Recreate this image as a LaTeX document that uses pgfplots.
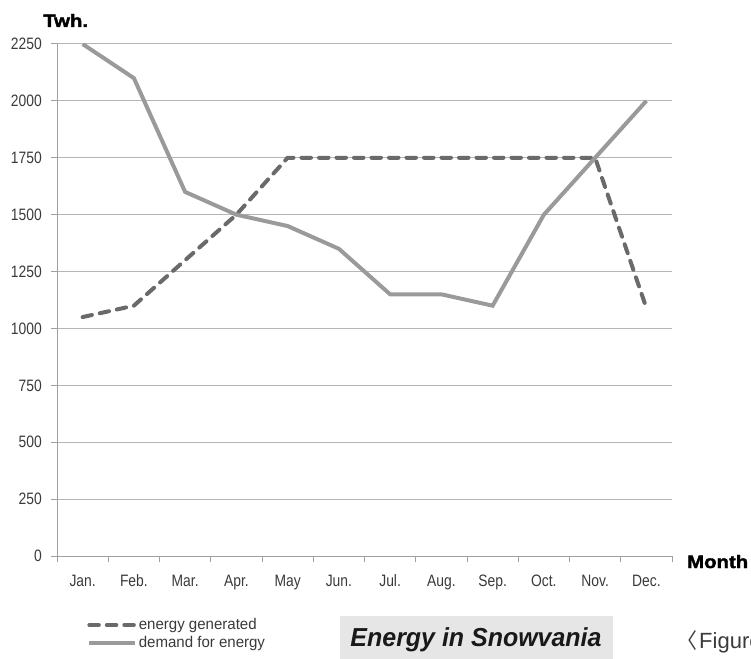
\documentclass[border=0pt]{standalone}
\usepackage{pgfplots}
\pgfplotsset{compat=1.18}
\usepackage{fontspec}
\setmainfont{Liberation Sans}
\newfontfamily\condfont[FakeStretch=0.84]{Liberation Sans}
\newfontfamily\legfont[FakeStretch=0.97]{Liberation Sans}
\newfontfamily\titlefont[FakeStretch=0.96]{Liberation Sans}
\newfontfamily\heavyfont[FakeStretch=1.13, FakeBold=2]{Liberation Sans}
\newfontfamily\cjk{Noto Sans CJK SC}
\definecolor{demandc}{HTML}{9A9A9A}
\definecolor{genc}{HTML}{6A6A6A}
\definecolor{gridc}{HTML}{B5B5B5}
\definecolor{axisc}{HTML}{A0A0A0}
\definecolor{txtc}{HTML}{3A3A3A}
\definecolor{boxc}{HTML}{E6E6E6}
\begin{document}
\begin{tikzpicture}
\useasboundingbox (0,0) rectangle (751pt,-658pt);
\clip (0,0) rectangle (751pt,-658pt);
\begin{axis}[
  at={(57pt,-556pt)}, anchor=south west,
  scale only axis, width=615pt, height=512pt,
  xmin=-0.5, xmax=11.5, ymin=0, ymax=2250,
  axis x line*=bottom, axis y line*=left,
  axis line style={-, draw=axisc, line width=1pt},
  xtick={-0.5,0.5,...,11.5},
  x tick label as interval,
  xticklabels={Jan.,Feb.,Mar.,Apr.,May,Jun.,Jul.,Aug.,Sep.,Oct.,Nov.,Dec.},
  ytick={0,250,...,2250},
  tick align=outside, major tick length=6pt,
  tick style={draw=axisc, line width=1pt},
  ymajorgrids, grid style={draw=gridc, line width=1pt},
  /pgf/number format/assume math mode=true,
  /pgf/number format/set thousands separator={},
  ticklabel style={font=\condfont\fontsize{16.5}{16.5}\selectfont, text=txtc},
  yticklabel style={inner sep=0pt, xshift=-9pt},
  xticklabel style={inner sep=0pt, yshift=-12pt, text height=12pt, text depth=3pt},
  legend style={at={(axis description cs:0.049,-0.119)}, anchor=north west,
    draw=none, fill=none, inner sep=0pt, row sep=2pt,
    font=\legfont\fontsize{15.5}{15.5}\selectfont, text=txtc,
    nodes={inner sep=1.5pt}},
  legend cell align=left,
  legend image code/.code={\draw[#1] (0pt,0pt) -- (46pt,0pt);},
]
\addplot[genc, line width=4pt, line cap=round, dash pattern=on 9.5pt off 8pt] coordinates {
  (0,1050) (1,1100) (2,1300) (3,1500) (4,1750) (5,1750) (6,1750) (7,1750)
  (8,1750) (9,1750) (10,1750) (11,1090)};
\addlegendentry{energy generated}
\addplot[demandc, line width=4pt] coordinates {
  (0,2250) (1,2100) (2,1600) (3,1500) (4,1450) (5,1350) (6,1150) (7,1150)
  (8,1100) (9,1500) (10,1750) (11,2000)};
\addlegendentry{demand for energy}
\end{axis}
\node[anchor=base west, inner sep=0pt, font=\heavyfont\bfseries\fontsize{18}{18}\selectfont] at (43pt,-27pt) {Twh.};
\node[anchor=base west, inner sep=0pt, font=\heavyfont\bfseries\fontsize{18}{18}\selectfont] at (687pt,-568pt) {Month};
\fill[boxc] (340pt,-616pt) rectangle (613pt,-662pt);
\node[anchor=base, inner sep=0pt,
  font=\titlefont\bfseries\itshape\fontsize{26}{26}\selectfont, text=black!90] at (476pt,-646pt) {Energy in Snowvania};
\node[anchor=base west, inner sep=0pt, font=\cjk\fontsize{21}{21}\selectfont, text=txtc] at (676pt,-648pt) {〈};
\node[anchor=base west, inner sep=0pt, font=\fontsize{22}{22}\selectfont, text=txtc] at (699pt,-648pt) {Figure};
\end{tikzpicture}
\end{document}
